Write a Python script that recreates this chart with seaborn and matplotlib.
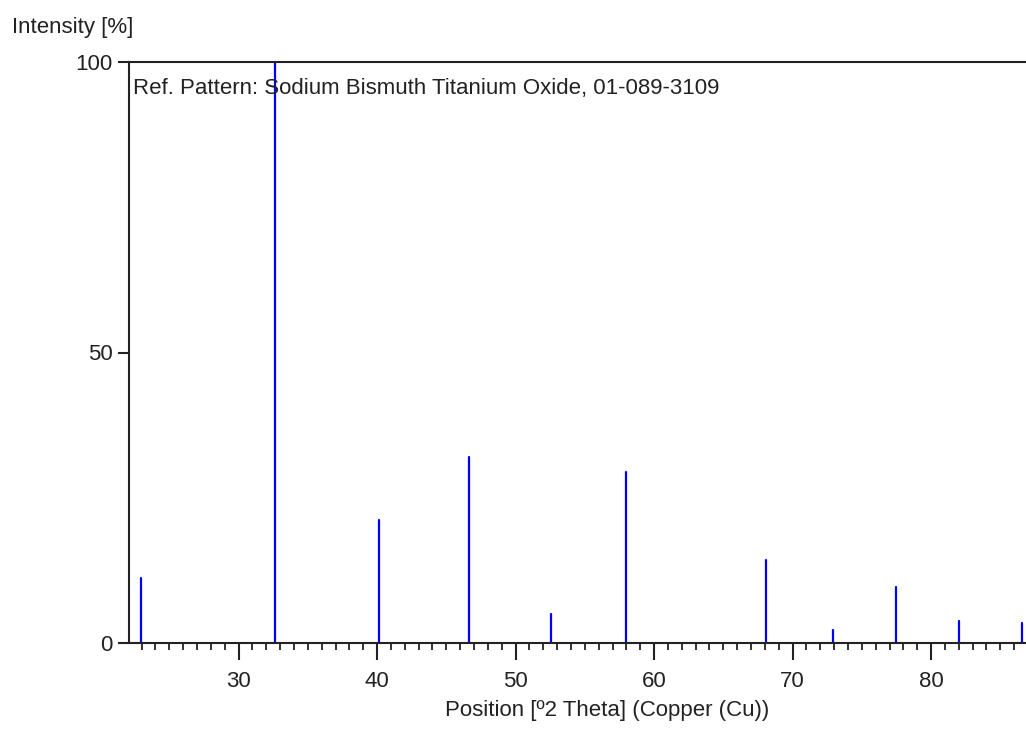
import matplotlib
matplotlib.use("Agg")
import matplotlib.pyplot as plt
from matplotlib.ticker import MultipleLocator
import seaborn as sns
import pandas as pd

# Peak positions [°2θ] and relative intensities [%]
positions = [22.95, 32.64, 40.14, 46.66, 52.58, 57.96, 68.08, 72.9, 77.5, 82.0, 86.6]
intensities = [11.2, 100.0, 21.2, 32.0, 5.0, 29.4, 14.3, 2.2, 9.7, 3.8, 3.5]
y_ticks = [0, 50, 100]
x_ticks = [30, 40, 50, 60, 70, 80]
ref_label = "Ref. Pattern: Sodium Bismuth Titanium Oxide, 01-089-3109"
x_label = "Position [º2 Theta] (Copper (Cu))"
y_label = "Intensity [%]"

sns.set_style("ticks")
plt.rcParams['font.family'] = ['Liberation Sans', 'DejaVu Sans']

rows = []
for i, (p, h) in enumerate(zip(positions, intensities)):
    rows.append({"pos": p, "int": 0.0, "peak": i})
    rows.append({"pos": p, "int": h, "peak": i})
df = pd.DataFrame(rows)

fig = plt.figure(figsize=(10.26, 7.3), dpi=100)
ax = fig.add_axes([129/1026, 1 - 643/730, 956/1026, (643 - 62)/730])

sns.lineplot(data=df, x="pos", y="int", units="peak", estimator=None,
             color="#0000FF", linewidth=1.6, ax=ax, legend=False)

ax.set_xlim(22.09, 22.09 + 956/13.85)
ax.set_ylim(0, 100)
ax.set_xticks(x_ticks)
ax.xaxis.set_minor_locator(MultipleLocator(1))
ax.set_yticks(y_ticks)

for s in ["left", "bottom", "top"]:
    ax.spines[s].set_linewidth(1.5)
    ax.spines[s].set_color("#222222")
ax.spines["right"].set_visible(False)

ax.tick_params(axis="x", which="major", length=12, width=1.5, labelsize=16, pad=8,
               color="#222222", labelcolor="#222222")
ax.tick_params(axis="x", which="minor", length=5, width=1.3, color="#222222")
ax.tick_params(axis="y", which="major", length=8, width=1.5, labelsize=16, pad=4,
               color="#222222", labelcolor="#222222")

ax.set_xlabel(x_label, fontsize=16, labelpad=6, color="#222222")
ax.set_ylabel("")
fig.text(12/1026, 1 - 28/730, y_label, fontsize=16, ha="left", va="center", color="#222222")
ax.text(0.004, 0.955, ref_label, transform=ax.transAxes, fontsize=16,
        ha="left", va="center", color="#222222")

fig.savefig("out.png", dpi=100)
